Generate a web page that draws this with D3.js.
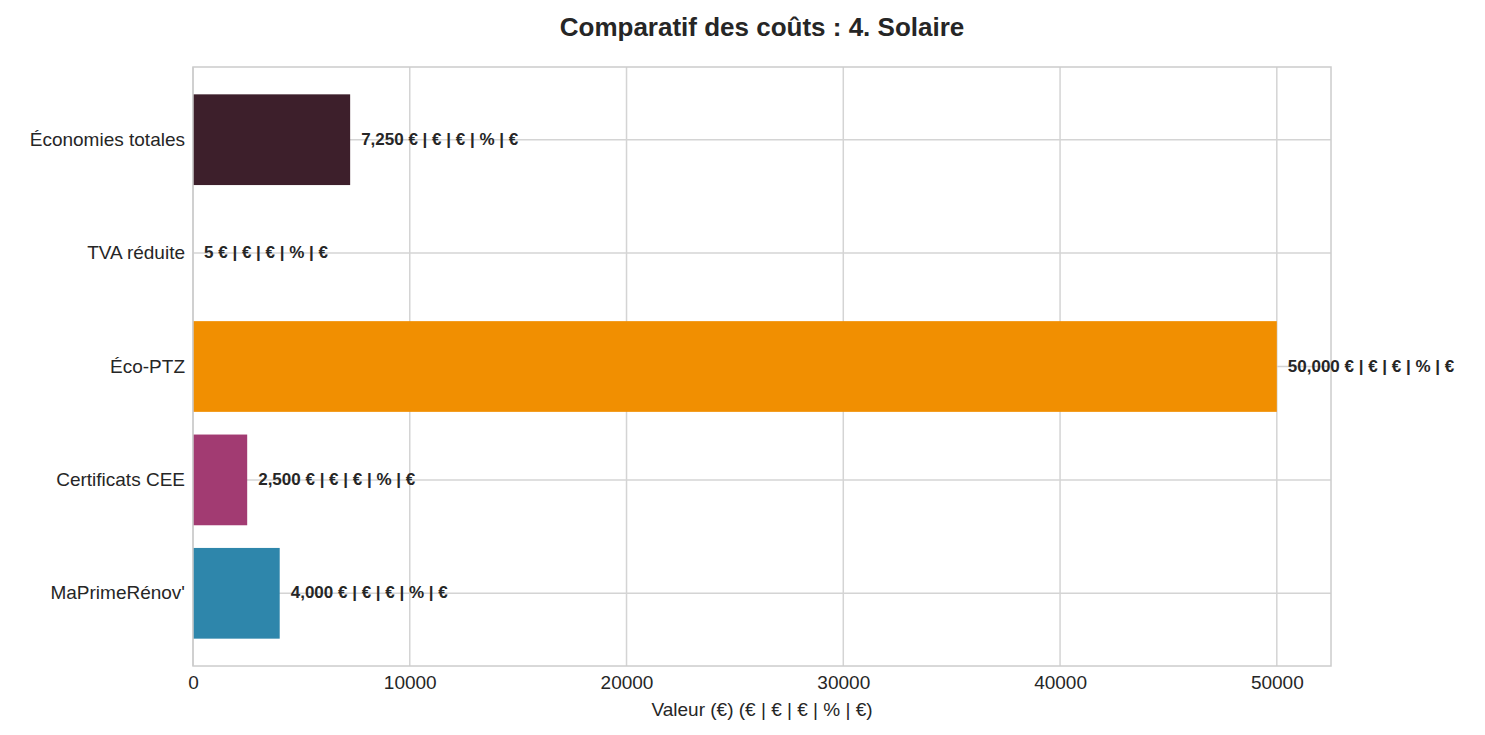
<!DOCTYPE html>
<html><head><meta charset="utf-8">
<script src="https://cdn.jsdelivr.net/npm/d3@7"></script>
<style>body{margin:0;background:#fff;font-family:"Liberation Sans",Arial,sans-serif;}</style>
</head><body>
<svg id="c" width="1485" height="735"></svg>
<script>
const categories = ["Économies totales","TVA réduite","Éco-PTZ","Certificats CEE","MaPrimeRénov'"];
const values = [7250, 5, 50000, 2500, 4000];
const colors = ["#3d1f2b","#c9d3de","#f18f01","#a23b72","#2e86ab"];
const labels = ["7,250 € | € | € | % | €","5 € | € | € | % | €","50,000 € | € | € | % | €","2,500 € | € | € | % | €","4,000 € | € | € | % | €"];
const xTicks = [0,10000,20000,30000,40000,50000];

const svg = d3.select("#c");
const L=193,R=1331,T=67,B=666;
const x = d3.scaleLinear().domain([0,52500]).range([L,R]);
const y = d3.scaleBand().domain(categories).range([83,650]).paddingInner(0.2).paddingOuter(0.1);

svg.append("g").selectAll("line").data(xTicks).join("line")
 .attr("x1",d=>x(d)).attr("x2",d=>x(d)).attr("y1",T).attr("y2",B)
 .attr("stroke","#d4d4d4").attr("stroke-width",1.5);
svg.append("g").selectAll("line").data(categories).join("line")
 .attr("x1",L).attr("x2",R).attr("y1",d=>y(d)+y.bandwidth()/2).attr("y2",d=>y(d)+y.bandwidth()/2)
 .attr("stroke","#d4d4d4").attr("stroke-width",1.5);

svg.append("g").selectAll("rect").data(categories).join("rect")
 .attr("x",x(0)).attr("y",d=>y(d)).attr("height",y.bandwidth())
 .attr("width",(d,i)=>x(values[i])-x(0)).attr("fill",(d,i)=>colors[i]);

svg.append("rect").attr("x",L).attr("y",T).attr("width",R-L).attr("height",B-T)
 .attr("fill","none").attr("stroke","#cccccc").attr("stroke-width",1.5);

svg.append("g").selectAll("text").data(categories).join("text")
 .attr("x",(d,i)=>x(values[i])+11).attr("y",d=>y(d)+y.bandwidth()/2+5)
 .attr("font-size",17).attr("font-weight","bold").attr("fill","#262626")
 .style("font-size","17px").text((d,i)=>labels[i]).attr("font-size",17).style("font-size","17.5px").style("font-size","17px")
 .style("font-size","17px");
svg.selectAll("g:last-of-type text").style("font-size","17px");

const xa = svg.append("g").attr("transform",`translate(0,${B})`)
 .call(d3.axisBottom(x).tickValues(xTicks).tickFormat(d3.format("d")).tickSize(0).tickPadding(10));
xa.select(".domain").remove();
xa.selectAll("text").attr("font-size",19).attr("fill","#262626").style("font-family","Liberation Sans, Arial");

const ya = svg.append("g").attr("transform",`translate(${L},0)`)
 .call(d3.axisLeft(y).tickSize(0).tickPadding(8));
ya.select(".domain").remove();
ya.selectAll("text").attr("font-size",19).attr("fill","#262626").style("font-family","Liberation Sans, Arial");

svg.append("text").attr("x",(L+R)/2).attr("y",716).attr("text-anchor","middle")
 .attr("font-size",19).attr("fill","#262626").text("Valeur (€) (€ | € | € | % | €)");
svg.append("text").attr("x",762).attr("y",36).attr("text-anchor","middle")
 .attr("font-size",26).attr("font-weight","bold").attr("fill","#262626").text("Comparatif des coûts : 4. Solaire");
</script>
</body></html>
